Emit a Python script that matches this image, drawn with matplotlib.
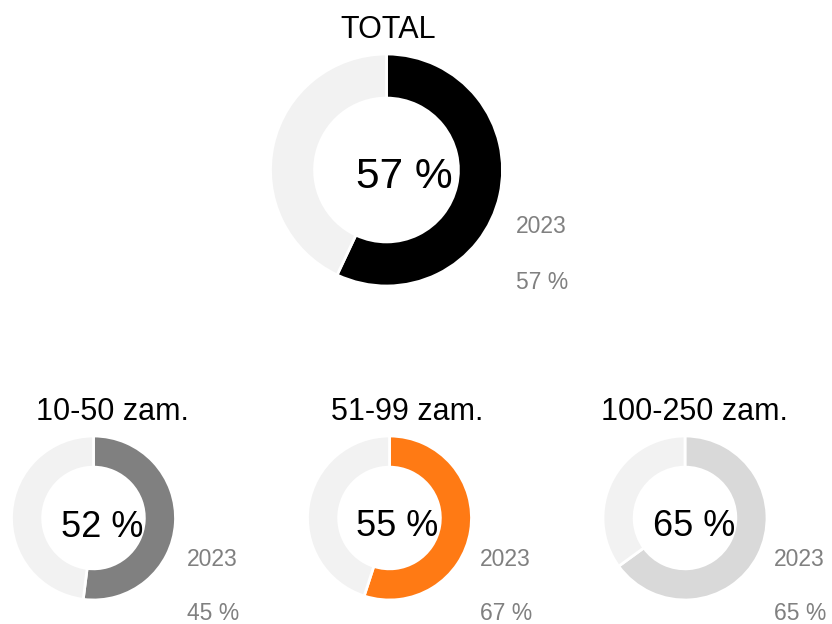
import matplotlib
matplotlib.use("Agg")
import matplotlib.pyplot as plt

# Dane
groups = ["TOTAL", "10-50 zam.", "51-99 zam.", "100-250 zam."]
values = [57, 52, 55, 65]
values_2023 = [57, 45, 67, 65]
prev_label = "2023"
colors = ["#000000", "#808080", "#ff7a14", "#d9d9d9"]
rest_color = "#f2f2f2"

# Układ (piksele, y od dołu)
H = 624
centers = [(386.5, H - 170), (93.5, H - 518), (389.5, H - 518), (685, H - 518)]
radii = [116, 82, 82, 82]
title_pos = [(388.5, H - 38), (112.5, H - 420), (407.5, H - 420), (694.5, H - 420)]
value_pos = [(404.5, H - 188), (102.5, H - 537), (397.5, H - 536), (694.5, H - 536)]
prev_x = [516, 187, 480, 774]
prev_y1 = [H - 233, H - 566, H - 566, H - 566]
prev_y2 = [H - 289, H - 620, H - 620, H - 620]
value_fs = [30.5, 26, 26, 26]

plt.rcParams['font.family'] = ['Liberation Sans', 'DejaVu Sans']

fig = plt.figure(figsize=(8.32, 6.24), dpi=100)
ax = fig.add_axes([0, 0, 1, 1])

for i in range(len(groups)):
    ax.pie([values[i], 100 - values[i]], colors=[colors[i], rest_color],
           startangle=90, counterclock=False, center=centers[i], radius=radii[i],
           wedgeprops=dict(width=radii[i] * 0.38, edgecolor="white", linewidth=2))
    ax.text(title_pos[i][0], title_pos[i][1], groups[i], ha="center", va="baseline",
            fontsize=22, color="black")
    ax.text(value_pos[i][0], value_pos[i][1], "{} %".format(values[i]), ha="center",
            va="baseline", fontsize=value_fs[i], color="black")
    ax.text(prev_x[i], prev_y1[i], prev_label, ha="left", va="baseline",
            fontsize=16.5, color="#808080")
    ax.text(prev_x[i], prev_y2[i], "{} %".format(values_2023[i]), ha="left",
            va="baseline", fontsize=16.5, color="#808080")

ax.set_xlim(0, 832)
ax.set_ylim(0, 624)
ax.set_aspect("equal")
ax.axis("off")

fig.savefig("out.png", dpi=100)
